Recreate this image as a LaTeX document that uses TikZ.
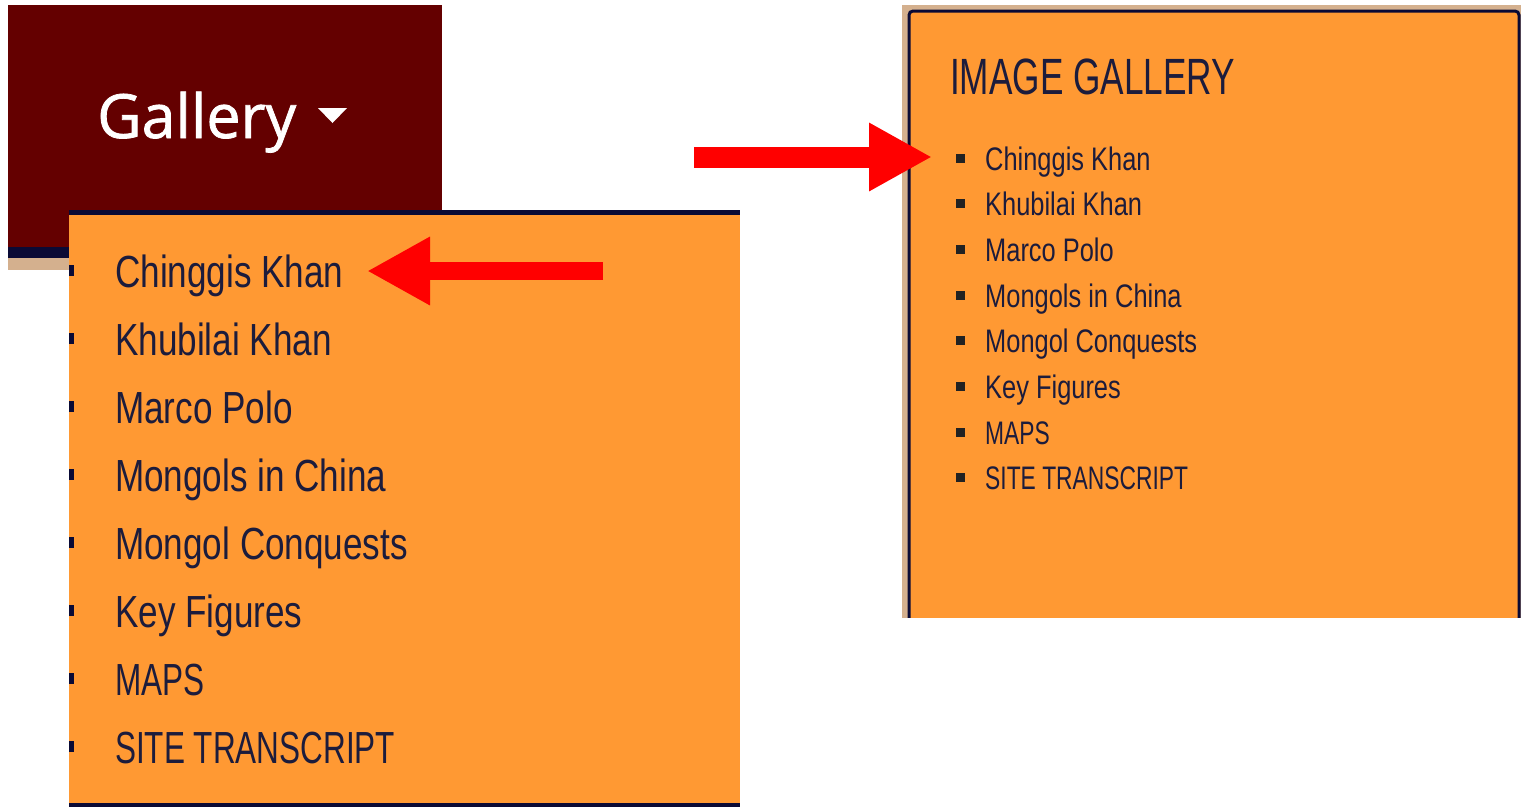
\documentclass[tikz,border=0pt]{standalone}
\usepackage{fontspec}
\setmainfont{Liberation Sans}
\newfontfamily\navfont[FakeStretch=0.78]{Liberation Sans}
\newfontfamily\capsfont[FakeStretch=0.70]{Liberation Sans}
\newfontfamily\headfont[FakeStretch=0.69]{Liberation Sans}
\newfontfamily\menufont[FakeBold=1.2]{Open Sans}
\usetikzlibrary{arrows.meta}
\definecolor{maroonbg}{HTML}{640000}
\definecolor{orangebg}{HTML}{FF9933}
\definecolor{navyline}{HTML}{0A0A35}
\definecolor{tanbg}{HTML}{D4B08E}
\definecolor{txtcol}{HTML}{1C1C3C}
\definecolor{bulletcol}{HTML}{222222}
\definecolor{arrowred}{HTML}{FF0000}
\tikzset{
  bigitem/.style={anchor=base west, inner sep=0pt, text=txtcol, font=\fontsize{45}{54}\selectfont},
  smallitem/.style={anchor=base west, inner sep=0pt, text=txtcol, font=\fontsize{32.6}{40}\selectfont},
  redarrow/.style={draw=arrowred, line width=#1, -{Triangle[length=63pt,width=64pt]}, arrowred},
}
\begin{document}
\begin{tikzpicture}[x=1pt,y=-1pt]
\useasboundingbox (0,0) rectangle (1523,807);
\fill[white] (0,0) rectangle (1523,807);

% ---- left: nav bar and dropdown
\fill[maroonbg] (8,5) rectangle (442,247);
\fill[navyline] (8,247) rectangle (69,258);
\fill[tanbg] (8,258) rectangle (69,270);
\node[anchor=base west, inner sep=0pt, text=white, font=\menufont\fontsize{61}{72}\selectfont] (gal) at (97,138) {Gallery};
\fill[white] (318,108) -- (347,108) -- (332.5,123) -- cycle;

\fill[orangebg] (69,211) rectangle (740,807);
\fill[navyline] (69,210) rectangle (740,215);
\fill[navyline] (69,803) rectangle (740,807);

\foreach \t/\f [count=\i from 0] in {Chinggis Khan/\navfont,Khubilai Khan/\navfont,Marco Polo/\navfont,Mongols in China/\navfont,Mongol Conquests/\navfont,Key Figures/\navfont,MAPS/\capsfont,SITE TRANSCRIPT/\capsfont}{
  \pgfmathsetmacro{\yb}{287+68*\i}
  \fill[navyline] (69,\yb-22) rectangle (74,\yb-11);
  \node[bigitem] (L\i) at (115,\yb) {\f\t};
}

% ---- right: image gallery panel
\begin{scope}
\clip (0,0) rectangle (1523,617);
\fill[tanbg] (902,5) rectangle (1521,640);
\filldraw[fill=orangebg, draw=navyline, line width=3pt, rounded corners=4pt] (909,11) rectangle (1519,660);
\end{scope}
\node[anchor=base west, inner sep=0pt, text=txtcol, font=\headfont\fontsize{51}{60}\selectfont] (head) at (950,94) {IMAGE GALLERY};

\foreach \t/\f [count=\i from 0] in {Chinggis Khan/\navfont,Khubilai Khan/\navfont,Marco Polo/\navfont,Mongols in China/\navfont,Mongol Conquests/\navfont,Key Figures/\navfont,MAPS/\capsfont,SITE TRANSCRIPT/\capsfont}{
  \pgfmathsetmacro{\yb}{170+45.7*\i}
  \fill[bulletcol] (956,\yb-16.5) rectangle (965,\yb-7.5);
  \node[smallitem] (R\i) at (985,\yb) {\f\t};
}

% ---- arrows
\coordinate (lstart) at (603,271);
\coordinate (ltip) at (367,271);
\draw[redarrow=18pt] (lstart) -- (ltip);
\coordinate (rstart) at (694,157);
\coordinate (rtip) at (932,157);
\draw[redarrow=21pt] (rstart) -- (rtip);
\end{tikzpicture}
\end{document}
